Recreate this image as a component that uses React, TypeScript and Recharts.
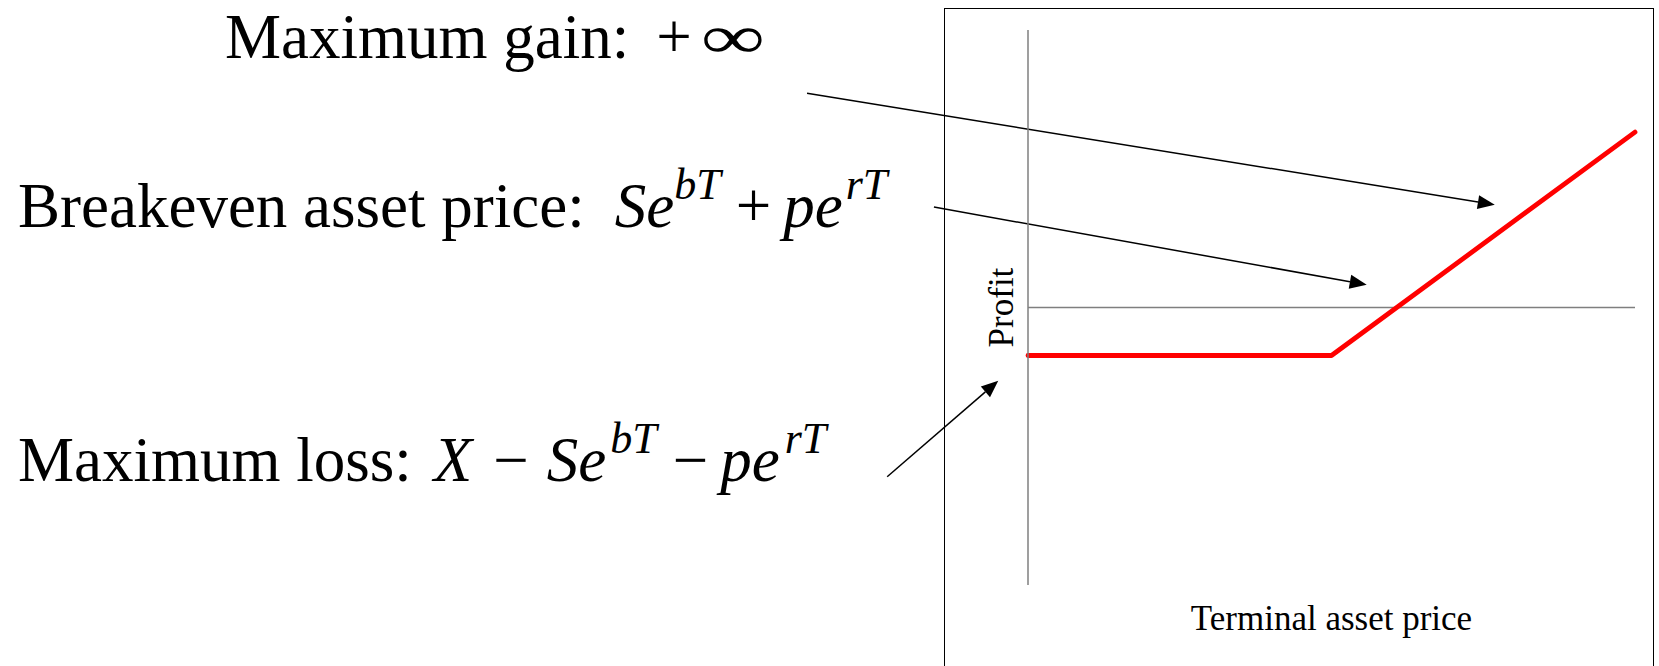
import React from 'react'
import { LineChart, Line, XAxis, YAxis, ReferenceLine } from 'recharts'

// long call payoff: profit vs terminal asset price
const terminalPrices = [0, 50, 100]
const profits = [-8.65, -8.65, 31.6]
const priceDomain = [0, 100]
const profitDomain = [-50, 50]

// annotation arrows in chart units, tail -> head
const gainArrow = [{ x: -36.4, y: 38.6 }, { x: 76.9, y: 18.5 }]
const breakevenArrow = [{ x: -15.5, y: 18.1 }, { x: 55.8, y: 4.1 }]
const lossArrow = [{ x: -23.2, y: -30.5 }, { x: -4.9, y: -13.2 }]

const data = terminalPrices.map((price, i) => ({ price, profit: profits[i] }))

const serif = "'Liberation Serif', 'Times New Roman', serif"
const axisGray = '#7f7f7f'

function Arrow(props: any) {
  const { x1, y1, x2, y2 } = props
  const dx = x2 - x1
  const dy = y2 - y1
  const len = Math.hypot(dx, dy)
  const ux = dx / len
  const uy = dy / len
  const headLen = 17
  const headHalf = 7
  const bx = x2 - ux * headLen
  const by = y2 - uy * headLen
  const pts = `${x2},${y2} ${bx - uy * headHalf},${by + ux * headHalf} ${bx + uy * headHalf},${by - ux * headHalf}`
  return (
    <g>
      <line x1={x1} y1={y1} x2={bx} y2={by} stroke="#000" strokeWidth={1.5} />
      <polygon points={pts} fill="#000" />
    </g>
  )
}

function Annotations() {
  const big = 63
  const sup = 44
  const rise = 28
  return (
    <svg width={1659} height={666} style={{ position: 'absolute', left: 0, top: 0, pointerEvents: 'none' }}>
      <g fontFamily={serif} fill="#000">
        <text x={225} y={58} fontSize={big}>
          Maximum gain:
          <tspan dx={27}>+</tspan>
        </text>
        {/* the infinity sign is drawn wider, as in an equation font */}
        <text transform="translate(701, 58) scale(1.45, 1)" fontSize={62}>∞</text>
        <text x={18} y={227} fontSize={big}>
          Breakeven asset price:
          <tspan dx={30} fontStyle="italic">Se</tspan>
          <tspan dx={0} dy={-rise} fontSize={sup} fontStyle="italic">bT</tspan>
          <tspan dx={15} dy={rise}>+</tspan>
          <tspan dx={12} fontStyle="italic">pe</tspan>
          <tspan dx={3} dy={-rise} fontSize={sup} fontStyle="italic">rT</tspan>
        </text>
        <text x={18} y={481} fontSize={big}>
          Maximum loss:
          <tspan dx={22} fontStyle="italic">X</tspan>
          <tspan dx={21}>−</tspan>
          <tspan dx={18} fontStyle="italic">Se</tspan>
          <tspan dx={4} dy={-rise} fontSize={sup} fontStyle="italic">bT</tspan>
          <tspan dx={16} dy={rise}>−</tspan>
          <tspan dx={12} fontStyle="italic">pe</tspan>
          <tspan dx={5} dy={-rise} fontSize={sup} fontStyle="italic">rT</tspan>
        </text>
      </g>
    </svg>
  )
}

export default function App() {
  return (
    <div style={{ position: 'absolute', left: 0, top: 0, width: 1659, height: 666, overflow: 'hidden', background: '#fff' }}>
      <div
        style={{
          position: 'absolute', left: 944, top: 8, width: 708, height: 720,
          borderTop: '1.5px solid #000', borderLeft: '1.5px solid #000', borderRight: '1.5px solid #000',
        }}
      />
      <div style={{ position: 'absolute', left: 0, top: 0 }}>
        <LineChart width={1659} height={666} data={data} margin={{ top: 30, right: 24, bottom: 0, left: 974 }}>
          <XAxis
            dataKey="price" type="number" domain={priceDomain}
            tick={false} tickLine={false} axisLine={false} height={81}
            label={{ value: 'Terminal asset price', position: 'insideBottom', offset: 36, fill: '#000', fontSize: 35, fontFamily: serif }}
          />
          <YAxis
            type="number" domain={profitDomain} width={54}
            tick={false} tickLine={false} axisLine={{ stroke: axisGray, strokeWidth: 1.5 }}
            label={{ value: 'Profit', angle: -90, position: 'center', fill: '#000', fontSize: 35, fontFamily: serif }}
          />
          <ReferenceLine y={0} stroke={axisGray} strokeWidth={1.5} />
          <Line
            dataKey="profit" type="linear" stroke="#ff0000" strokeWidth={4.8}
            strokeLinecap="round" strokeLinejoin="round" dot={false} isAnimationActive={false}
          />
          <ReferenceLine segment={gainArrow} ifOverflow="visible" shape={Arrow} />
          <ReferenceLine segment={breakevenArrow} ifOverflow="visible" shape={Arrow} />
          <ReferenceLine segment={lossArrow} ifOverflow="visible" shape={Arrow} />
        </LineChart>
      </div>
      <Annotations />
    </div>
  )
}
